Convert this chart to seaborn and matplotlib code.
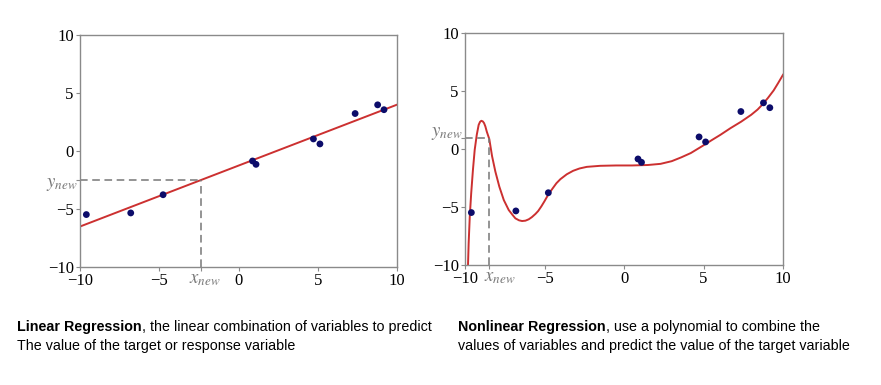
import matplotlib.pyplot as plt
import numpy as np
import seaborn as sns

# observed points (same in both panels)
pts_x = [-9.6, -6.8, -4.76, 0.88, 1.1, 4.72, 5.13, 7.35, 8.77, 9.17]
pts_y = [-5.48, -5.34, -3.77, -0.86, -1.15, 1.04, 0.61, 3.23, 3.98, 3.56]

# nonlinear curve
curve_x = [-9.85, -9.81, -9.77, -9.70, -9.61, -9.50, -9.39, -9.26, -9.14,
           -9.05, -8.97, -8.88, -8.80, -8.72, -8.63, -8.47, -8.30, -8.09,
           -7.84, -7.56, -7.25, -7.00, -6.83, -6.60, -6.41, -6.20, -5.99,
           -5.80, -5.57, -5.40, -5.20, -5.00, -4.75, -4.50, -4.25, -4.00,
           -3.60, -3.20, -2.80, -2.34, -1.50, -0.50, 0.50, 1.50, 2.30, 3.00,
           3.60, 4.20, 4.80, 5.10, 5.50, 6.06, 6.70, 7.36, 8.00, 8.40, 8.68,
           9.05, 9.41, 9.70, 10.0]
curve_y = [-10.6, -10.0, -8.13, -5.84, -3.82, -1.80, -0.08, 1.22, 2.08,
           2.35, 2.43, 2.38, 2.23, 1.95, 1.50, 0.85, -0.60, -1.95,
           -3.25, -4.40, -5.26, -5.70, -5.98, -6.15, -6.21, -6.18, -6.06,
           -5.88, -5.60, -5.35, -4.95, -4.50, -3.90, -3.42, -2.95, -2.60,
           -2.18, -1.88, -1.68, -1.54, -1.45, -1.42, -1.42, -1.38, -1.28, -1.05,
           -0.72, -0.35, 0.15, 0.40, 0.75, 1.22, 1.80, 2.35, 2.95, 3.40, 3.80,
           4.40, 5.05, 5.70, 6.40]

x_new_lin = -2.37
x_new_nl, y_new_nl = -8.47, 0.94

ticks = [-10, -5, 0, 5, 10]
tick_labels = ["\u221210", "\u22125", "0", "5", "10"]

plt.rcParams["font.family"] = ["Liberation Serif", "DejaVu Serif"]
plt.rcParams["mathtext.fontset"] = "stix"

red = "#cc3030"
navy = "#0c0c6a"
grey = "#777777"
dash = (0, (5, 3))

fig = plt.figure(figsize=(8.81, 3.85), dpi=100)
ax1 = fig.add_axes([0.0908, 0.3065, 0.36, 0.6026])
ax2 = fig.add_axes([0.5278, 0.3117, 0.361, 0.6026])

for ax in (ax1, ax2):
    ax.set_xlim(-10, 10)
    ax.set_ylim(-10, 10)
    for s in ax.spines.values():
        s.set_color("#8a8a8a")
        s.set_linewidth(1.0)
    ax.tick_params(length=3, width=0.8, color="#8a8a8a", labelsize=12,
                   pad=1.5)

# left: linear fit
sns.regplot(x=pts_x, y=pts_y, ax=ax1, ci=None, truncate=False,
            scatter_kws={"color": navy, "s": 24, "alpha": 1, "zorder": 3,
                         "edgecolor": "none"},
            line_kws={"color": red, "lw": 1.4})
slope, icpt = np.polyfit(pts_x, pts_y, 1)
y_new_lin = slope * x_new_lin + icpt
ax1.plot([-10, x_new_lin], [y_new_lin, y_new_lin], ls=dash, color=grey, lw=1.1)
ax1.plot([x_new_lin, x_new_lin], [-10, y_new_lin], ls=dash, color=grey, lw=1.1)

# right: nonlinear curve
sns.lineplot(x=curve_x, y=curve_y, ax=ax2, color=red, lw=1.4)
sns.scatterplot(x=pts_x, y=pts_y, ax=ax2, color=navy, s=24,
                edgecolor="none", zorder=3)
ax2.plot([-10, x_new_nl], [y_new_nl, y_new_nl], ls=dash, color=grey, lw=1.1)
ax2.plot([x_new_nl, x_new_nl], [-10, y_new_nl], ls=dash, color=grey, lw=1.1)


def set_ticks(ax, xn, yn, dx, ha, dy):
    ax.set_xticks(ticks + [xn])
    ax.set_xticklabels(tick_labels + [""])
    ax.set_yticks(ticks + [yn])
    ax.set_yticklabels(tick_labels + [""])
    ax.annotate("$x_{new}$", xy=(xn, 0), xycoords=ax.get_xaxis_transform(),
                xytext=(dx, -3), textcoords="offset points", ha=ha,
                va="top", color=grey, fontsize=13.5, annotation_clip=False)
    ax.annotate("$y_{new}$", xy=(0, yn), xycoords=ax.get_yaxis_transform(),
                xytext=(-2, dy), textcoords="offset points", ha="right",
                va="center", color=grey, fontsize=13.5, annotation_clip=False)


set_ticks(ax1, x_new_lin, y_new_lin, 3, "center", -3)
set_ticks(ax2, x_new_nl, y_new_nl, -4, "left", 3)

# captions
cap_font = ["Liberation Sans", "DejaVu Sans"]
captions = [
    (0.0193, "Linear Regression",
     ", the linear combination of variables to predict",
     "The value of the target or response variable"),
    (0.5199, "Nonlinear Regression",
     ", use a polynomial to combine the",
     "values of variables and predict the value of the target variable"),
]
for x0, bold, rest, line2 in captions:
    t = fig.text(x0, 0.132, bold, family=cap_font, weight="bold",
                 fontsize=10.3, va="bottom")
    ax1.annotate(rest, xy=(1, 0), xycoords=t, va="bottom", ha="left",
                 family=cap_font, fontsize=10.3, annotation_clip=False)
    fig.text(x0, 0.082, line2, family=cap_font, fontsize=10.3, va="bottom")

fig.savefig("out.png")
